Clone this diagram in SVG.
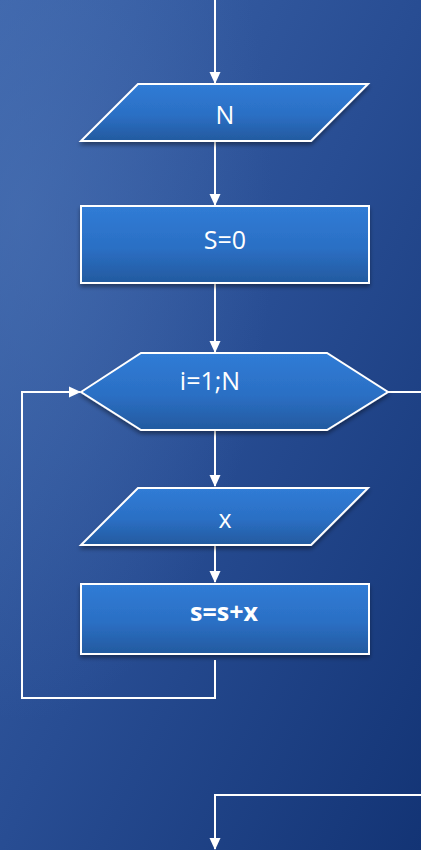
<svg xmlns="http://www.w3.org/2000/svg" width="421" height="850" viewBox="0 0 421 850">
<defs>
<linearGradient id="bg" x1="0" y1="0" x2="1" y2="1">
<stop offset="0" stop-color="#3d65ab"/>
<stop offset="0.5" stop-color="#284d93"/>
<stop offset="1" stop-color="#133475"/>
</linearGradient>
<radialGradient id="glow" cx="0.05" cy="0.25" r="0.6">
<stop offset="0" stop-color="#4a72b4" stop-opacity="0.6"/>
<stop offset="1" stop-color="#4a72b4" stop-opacity="0"/>
</radialGradient>
<linearGradient id="nf" x1="0" y1="0" x2="0" y2="1">
<stop offset="0" stop-color="#307cd6"/>
<stop offset="0.55" stop-color="#2b6fc4"/>
<stop offset="1" stop-color="#235a9f"/>
</linearGradient>
<filter id="sh" x="-10%" y="-10%" width="120%" height="130%">
<feGaussianBlur in="SourceAlpha" stdDeviation="2"/>
<feOffset dy="3"/>
<feComponentTransfer><feFuncA type="linear" slope="0.4"/></feComponentTransfer>
<feMerge><feMergeNode/><feMergeNode in="SourceGraphic"/></feMerge>
</filter>
<marker id="ah" markerWidth="12" markerHeight="12" refX="11" refY="6" orient="auto" markerUnits="userSpaceOnUse">
<path d="M0,0.5 L12,6 L0,11.5 z" fill="#fff"/>
</marker>
</defs>
<style>
.node{fill:url(#nf);stroke:#fff;stroke-width:2;filter:url(#sh)}
.lbl{fill:#fff;font-family:"Open Sans","Liberation Sans",sans-serif;font-size:25px;text-anchor:middle}
.b{font-weight:bold}
.c{fill:none;stroke:#fff;stroke-width:2}
</style>
<rect width="421" height="850" fill="url(#bg)"/>
<rect width="421" height="850" fill="url(#glow)"/>
<g id="connectors">
<path class="c" d="M215,0 V83" marker-end="url(#ah)"/>
<path class="c" d="M215,141 V205" marker-end="url(#ah)"/>
<path class="c" d="M215,283 V352" marker-end="url(#ah)"/>
<path class="c" d="M388,392 H421"/>
<path class="c" d="M215,430 V486" marker-end="url(#ah)"/>
<path class="c" d="M215,545 V582" marker-end="url(#ah)"/>
<path class="c" d="M215,660 V698 H22 V392 H80" marker-end="url(#ah)"/>
<path class="c" d="M421,795 H215 V849" marker-end="url(#ah)"/>
</g>
<g id="input-N">
<polygon class="node" points="138,84 368,84 311,141 81,141"/>
<text class="lbl" x="225" y="124">N</text>
</g>
<g id="init-S">
<rect class="node" x="81" y="206" width="288" height="77"/>
<text class="lbl" x="225" y="249">S=0</text>
</g>
<g id="loop">
<polygon class="node" points="81,392 141,353 327,353 388,392 327,430 141,430"/>
<text class="lbl" x="210" y="390">i=1;N</text>
</g>
<g id="input-x">
<polygon class="node" points="138,488 368,488 311,545 81,545"/>
<text class="lbl" x="225" y="528">x</text>
</g>
<g id="sum">
<rect class="node" x="81" y="584" width="288" height="70"/>
<text class="lbl b" x="224" y="621">s=s+x</text>
</g>
</svg>
